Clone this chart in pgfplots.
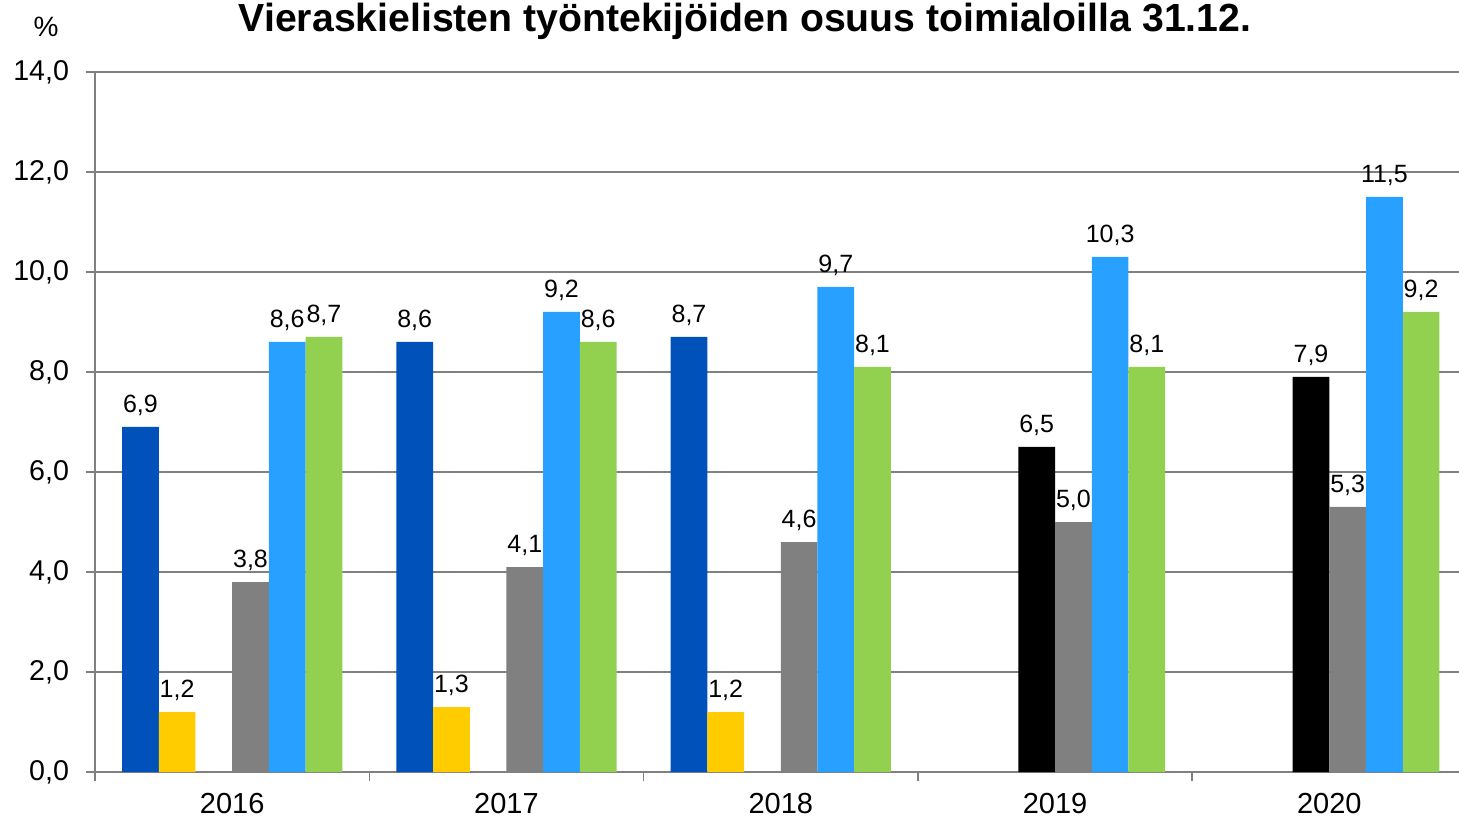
\documentclass[border=0pt]{standalone}
\usepackage{fontspec}
\setmainfont{Liberation Sans}
\usepackage{pgfplots}
\pgfplotsset{compat=1.18}
\definecolor{cDark}{RGB}{0,82,186}
\definecolor{cYel}{RGB}{255,204,0}
\definecolor{cGray}{RGB}{128,128,128}
\definecolor{cLight}{RGB}{40,160,255}
\definecolor{cGreen}{RGB}{146,208,80}
\begin{document}
\begin{tikzpicture}
\useasboundingbox (0,0) rectangle (729.5pt,409.5pt);
\begin{axis}[
  at={(47.5pt,23.5pt)}, anchor=south west,
  scale only axis, width=685.75pt, height=350pt,
  ybar=0pt, bar width=18.35pt,
  xmin=-0.5, xmax=4.5, ymin=0, ymax=14,
  ytick={0,2,...,14},
  xtick={0,1,2,3,4},
  xticklabels={2016,2017,2018,2019,2020},
  minor xtick={-0.5,0.5,...,4.5},
  axis x line=bottom, axis y line=left,
  axis line style={draw=cGray, line width=0.8pt, -},
  tick align=outside,
  major tick length=4.5pt, minor tick length=4.5pt,
  every tick/.style={draw=cGray, line width=0.8pt},
  major x tick style={draw=none},
  ymajorgrids, grid style={draw=cGray, line width=0.8pt},
  /pgf/number format/assume math mode=true,
  yticklabel style={font=\fontsize{14.3}{16}\selectfont, xshift=-5pt, /pgf/number format/.cd, fixed, fixed zerofill, precision=1, use comma},
  xticklabel style={font=\fontsize{14.5}{16}\selectfont, yshift=-2.5pt},
  nodes near coords,
  nodes near coords style={font=\fontsize{12.5}{14}\selectfont, black, yshift=2pt, /pgf/number format/.cd, fixed, fixed zerofill, precision=1, use comma},
  every axis plot/.append style={draw=none},
  clip=false,
]
\addplot[fill=cDark] coordinates {(0,6.9) (1,8.6) (2,8.7)};
\addplot[fill=cYel] coordinates {(0,1.2) (1,1.3) (2,1.2)};
\addplot[fill=black] coordinates {(3,6.5) (4,7.9)};
\addplot[fill=cGray] coordinates {(0,3.8) (1,4.1) (2,4.6) (3,5.0) (4,5.3)};
\addplot[fill=cLight] coordinates {(0,8.6) (1,9.2) (2,9.7) (3,10.3) (4,11.5)};
\addplot[fill=cGreen] coordinates {(0,8.7) (1,8.6) (2,8.1) (3,8.1) (4,9.2)};
\end{axis}
\node[anchor=base, font=\fontsize{19.6}{22}\selectfont\bfseries] at (372.5pt,393.5pt) {Vieraskielisten työntekijöiden osuus toimialoilla 31.12.};
\node[anchor=base, font=\fontsize{14}{16}\selectfont] at (23pt,391pt) {\%};
\end{tikzpicture}
\end{document}
